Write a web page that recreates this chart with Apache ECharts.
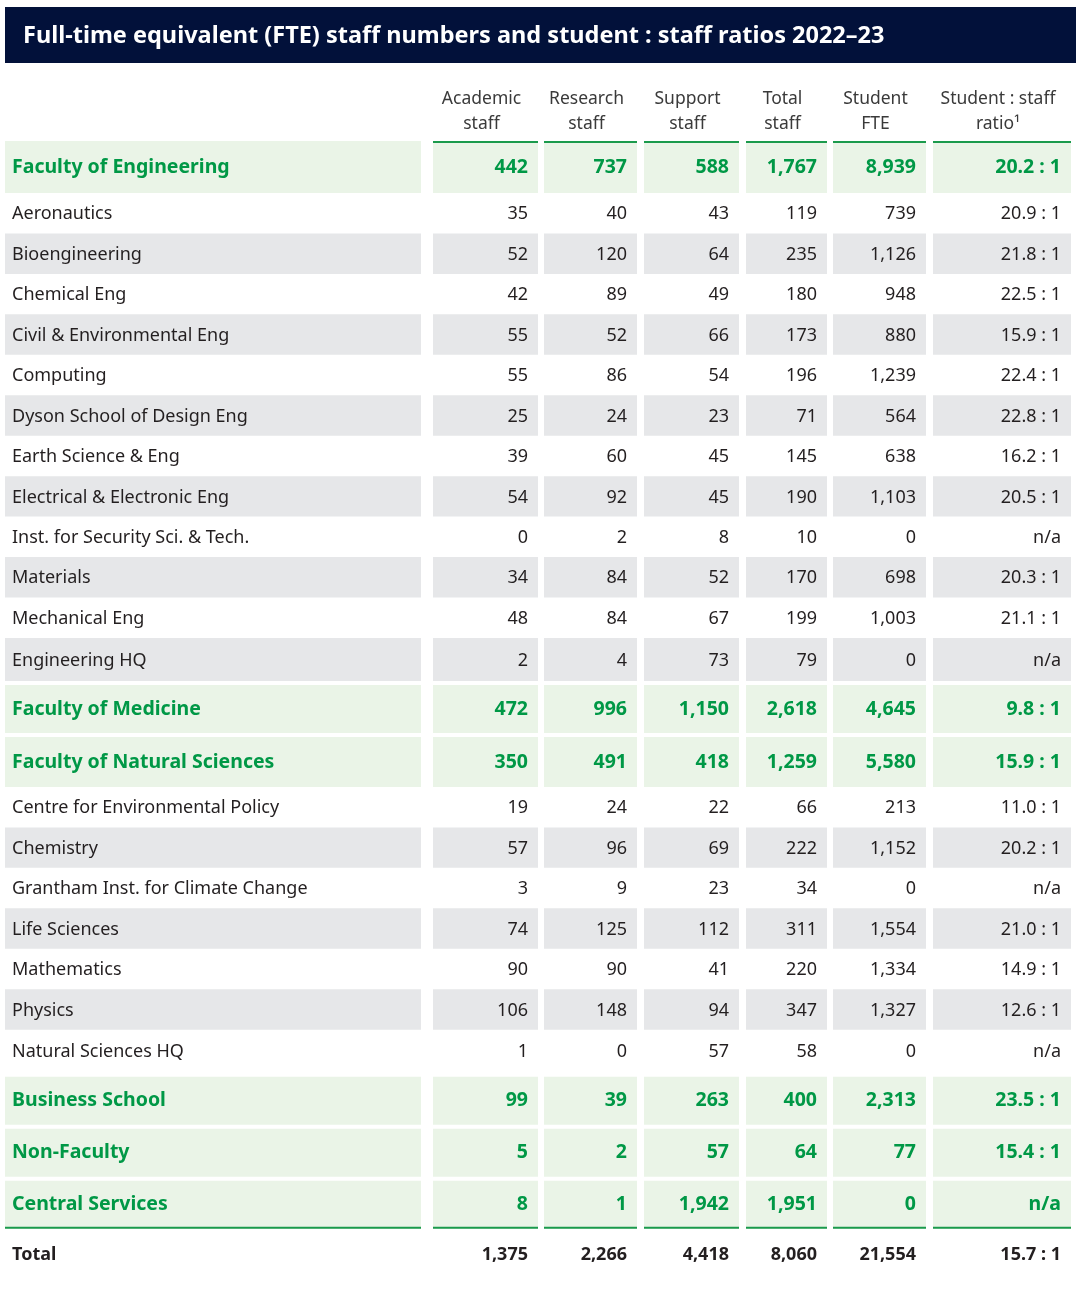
<!DOCTYPE html>
<html><head><meta charset="utf-8">
<script src="https://cdn.jsdelivr.net/npm/echarts@6/dist/echarts.min.js"></script>
<style>html,body{margin:0;padding:0;background:#fff}#c{width:1080px;height:1313px}</style>
</head><body><div id="c"></div>
<script>
// ---------- DATA ----------
const chartTitle = 'Full-time equivalent (FTE) staff numbers and student : staff ratios 2022\u201323';
const columnHeaders = ['Academic\nstaff', 'Research\nstaff', 'Support\nstaff', 'Total\nstaff', 'Student\nFTE', 'Student : staff\nratio\u00B9'];
const rowNames = [
  'Faculty of Engineering', 'Aeronautics', 'Bioengineering', 'Chemical Eng', 'Civil & Environmental Eng',
  'Computing', 'Dyson School of Design Eng', 'Earth Science & Eng', 'Electrical & Electronic Eng',
  'Inst. for Security Sci. & Tech.', 'Materials', 'Mechanical Eng', 'Engineering HQ',
  'Faculty of Medicine', 'Faculty of Natural Sciences', 'Centre for Environmental Policy', 'Chemistry',
  'Grantham Inst. for Climate Change', 'Life Sciences', 'Mathematics', 'Physics', 'Natural Sciences HQ',
  'Business School', 'Non-Faculty', 'Central Services'
];
const rowKinds = [
  'faculty', 'dept', 'dept', 'dept', 'dept', 'dept', 'dept', 'dept', 'dept', 'dept', 'dept', 'dept', 'hq',
  'faculty', 'faculty', 'dept', 'dept', 'dept', 'dept', 'dept', 'dept', 'hq',
  'faculty', 'faculty', 'faculty'
];
const academicStaff = [442, 35, 52, 42, 55, 55, 25, 39, 54, 0, 34, 48, 2, 472, 350, 19, 57, 3, 74, 90, 106, 1, 99, 5, 8];
const researchStaff = [737, 40, 120, 89, 52, 86, 24, 60, 92, 2, 84, 84, 4, 996, 491, 24, 96, 9, 125, 90, 148, 0, 39, 2, 1];
const supportStaff = [588, 43, 64, 49, 66, 54, 23, 45, 45, 8, 52, 67, 73, 1150, 418, 22, 69, 23, 112, 41, 94, 57, 263, 57, 1942];
const totalStaff = [1767, 119, 235, 180, 173, 196, 71, 145, 190, 10, 170, 199, 79, 2618, 1259, 66, 222, 34, 311, 220, 347, 58, 400, 64, 1951];
const studentFTE = [8939, 739, 1126, 948, 880, 1239, 564, 638, 1103, 0, 698, 1003, 0, 4645, 5580, 213, 1152, 0, 1554, 1334, 1327, 0, 2313, 77, 0];
const studentStaffRatio = [20.2, 20.9, 21.8, 22.5, 15.9, 22.4, 22.8, 16.2, 20.5, null, 20.3, 21.1, null, 9.8, 15.9, 11.0, 20.2, null, 21.0, 14.9, 12.6, null, 23.5, 15.4, null];
const totalLabel = 'Total';
const totalValues = [1375, 2266, 4418, 8060, 21554, 15.7];

// ---------- LAYOUT (code, not data) ----------
const FONT = "'Noto Sans', 'DejaVu Sans', sans-serif";
const C = {
  bar: '#02113a', green: '#009846', greenLine: '#1b9a4c', greenFill: '#eaf4e7',
  grey: '#e6e7e9', text: '#231f20', header: '#3a3a3a'
};
const GRID_LEFT = 5, GRID_TOP = 141, GRID_W = 1066;
const colEdges = [[0, 416], [428, 533], [539, 632], [639, 734], [741, 822], [828, 921], [928, 1066]];

const fmt = v => v.toLocaleString('en-GB');
const fmtRatio = v => v == null ? 'n/a' : v.toFixed(1) + ' : 1';

// row geometry from kinds
const rowTop = [], rowH = [];
let yAcc = 0;
rowKinds.forEach((k, i) => {
  const prev = rowKinds[i - 1], next = rowKinds[i + 1];
  const gap = (k === 'faculty' && i > 0 && prev !== 'dept') ? 4 : 0;
  yAcc += gap;
  let h;
  if (k === 'faculty') h = 48 + (next === 'dept' ? 2 : 0) + (i === 0 ? 2 : 0);
  else if (k === 'hq') h = 43;
  else h = 40.45;
  rowTop.push(yAcc); rowH.push(h);
  yAcc += h;
});
const totalRowTop = yAcc + 2, totalRowH = 46;
const GRID_H = totalRowTop + totalRowH;

// shading of dept rows alternates within each faculty block
const shade = [];
let alt = 0;
rowKinds.forEach(k => {
  if (k === 'faculty') { shade.push('green'); alt = 0; }
  else { shade.push(alt % 2 === 1 ? 'grey' : 'none'); alt++; }
});

const rowValues = i => [fmt(academicStaff[i]), fmt(researchStaff[i]), fmt(supportStaff[i]),
  fmt(totalStaff[i]), fmt(studentFTE[i]), fmtRatio(studentStaffRatio[i])];

const data = rowNames.map((n, i) => [i]);
data.push([rowNames.length]);

function renderItem(params, api) {
  const r = api.value(0);
  const isTotal = r === rowNames.length;
  const top = isTotal ? totalRowTop : rowTop[r];
  const h = isTotal ? totalRowH : rowH[r];
  const y0 = api.coord([0, top])[1];
  const y1 = api.coord([0, top + h])[1];
  const kind = isTotal ? 'total' : rowKinds[r];
  const yc = (y0 + y1) / 2 + (kind === 'faculty' ? 0 : 1);
  const children = [];
  const fill = isTotal ? 'none' : shade[r];
  const texts = isTotal ? [totalLabel].concat(totalValues.slice(0, 5).map(fmt), [fmtRatio(totalValues[5])])
                        : [rowNames[r]].concat(rowValues(r));
  const bold = kind === 'faculty' || kind === 'total';
  const color = kind === 'faculty' ? C.green : C.text;
  const fs = kind === 'faculty' ? 19.5 : 18;
  colEdges.forEach((e, c) => {
    const x0 = api.coord([e[0], 0])[0];
    const x1 = api.coord([e[1], 0])[0];
    if (fill !== 'none') {
      children.push({ type: 'rect', shape: { x: x0, y: y0, width: x1 - x0, height: y1 - y0 },
        style: { fill: fill === 'green' ? C.greenFill : C.grey } });
    }
    if (r === 0 && c > 0) {
      children.push({ type: 'rect', shape: { x: x0, y: y0, width: x1 - x0, height: 2 }, style: { fill: C.greenLine } });
    }
    if (r === rowNames.length - 1) {
      children.push({ type: 'rect', shape: { x: x0, y: y1 - 2, width: x1 - x0, height: 2 }, style: { fill: C.greenLine } });
    }
    children.push({ type: 'text', style: {
      text: texts[c], x: c === 0 ? x0 + 7 : x1 - 10, y: yc,
      align: c === 0 ? 'left' : 'right', verticalAlign: 'middle',
      fill: color, font: (bold ? 'bold ' : '') + fs + 'px ' + FONT
    } });
  });
  return { type: 'group', children };
}

const chart = echarts.init(document.getElementById('c'), null, { renderer: 'canvas' });

const headerGraphics = columnHeaders.map((t, i) => {
  const e = colEdges[i + 1];
  return { type: 'text', x: GRID_LEFT + (e[0] + e[1]) / 2 - 4, y: 112,
    style: { text: t, align: 'center', verticalAlign: 'middle', fill: C.header,
      font: '17.5px ' + FONT, lineHeight: 25 } };
});

chart.setOption({
  animation: false,
  backgroundColor: '#fff',
  grid: { left: GRID_LEFT, top: GRID_TOP, width: GRID_W, height: GRID_H },
  xAxis: { type: 'value', min: 0, max: GRID_W, show: false },
  yAxis: { type: 'value', min: 0, max: GRID_H, inverse: true, show: false },
  graphic: [
    { type: 'rect', shape: { x: 5, y: 7, width: 1071, height: 56 }, style: { fill: C.bar } },
    { type: 'text', x: 23, y: 36, style: { text: chartTitle, fill: '#fff', verticalAlign: 'middle',
      font: 'bold 23.5px ' + FONT } }
  ].concat(headerGraphics),
  series: [{ type: 'custom', renderItem, data, clip: false, encode: { y: 0 } }]
});
</script></body></html>
